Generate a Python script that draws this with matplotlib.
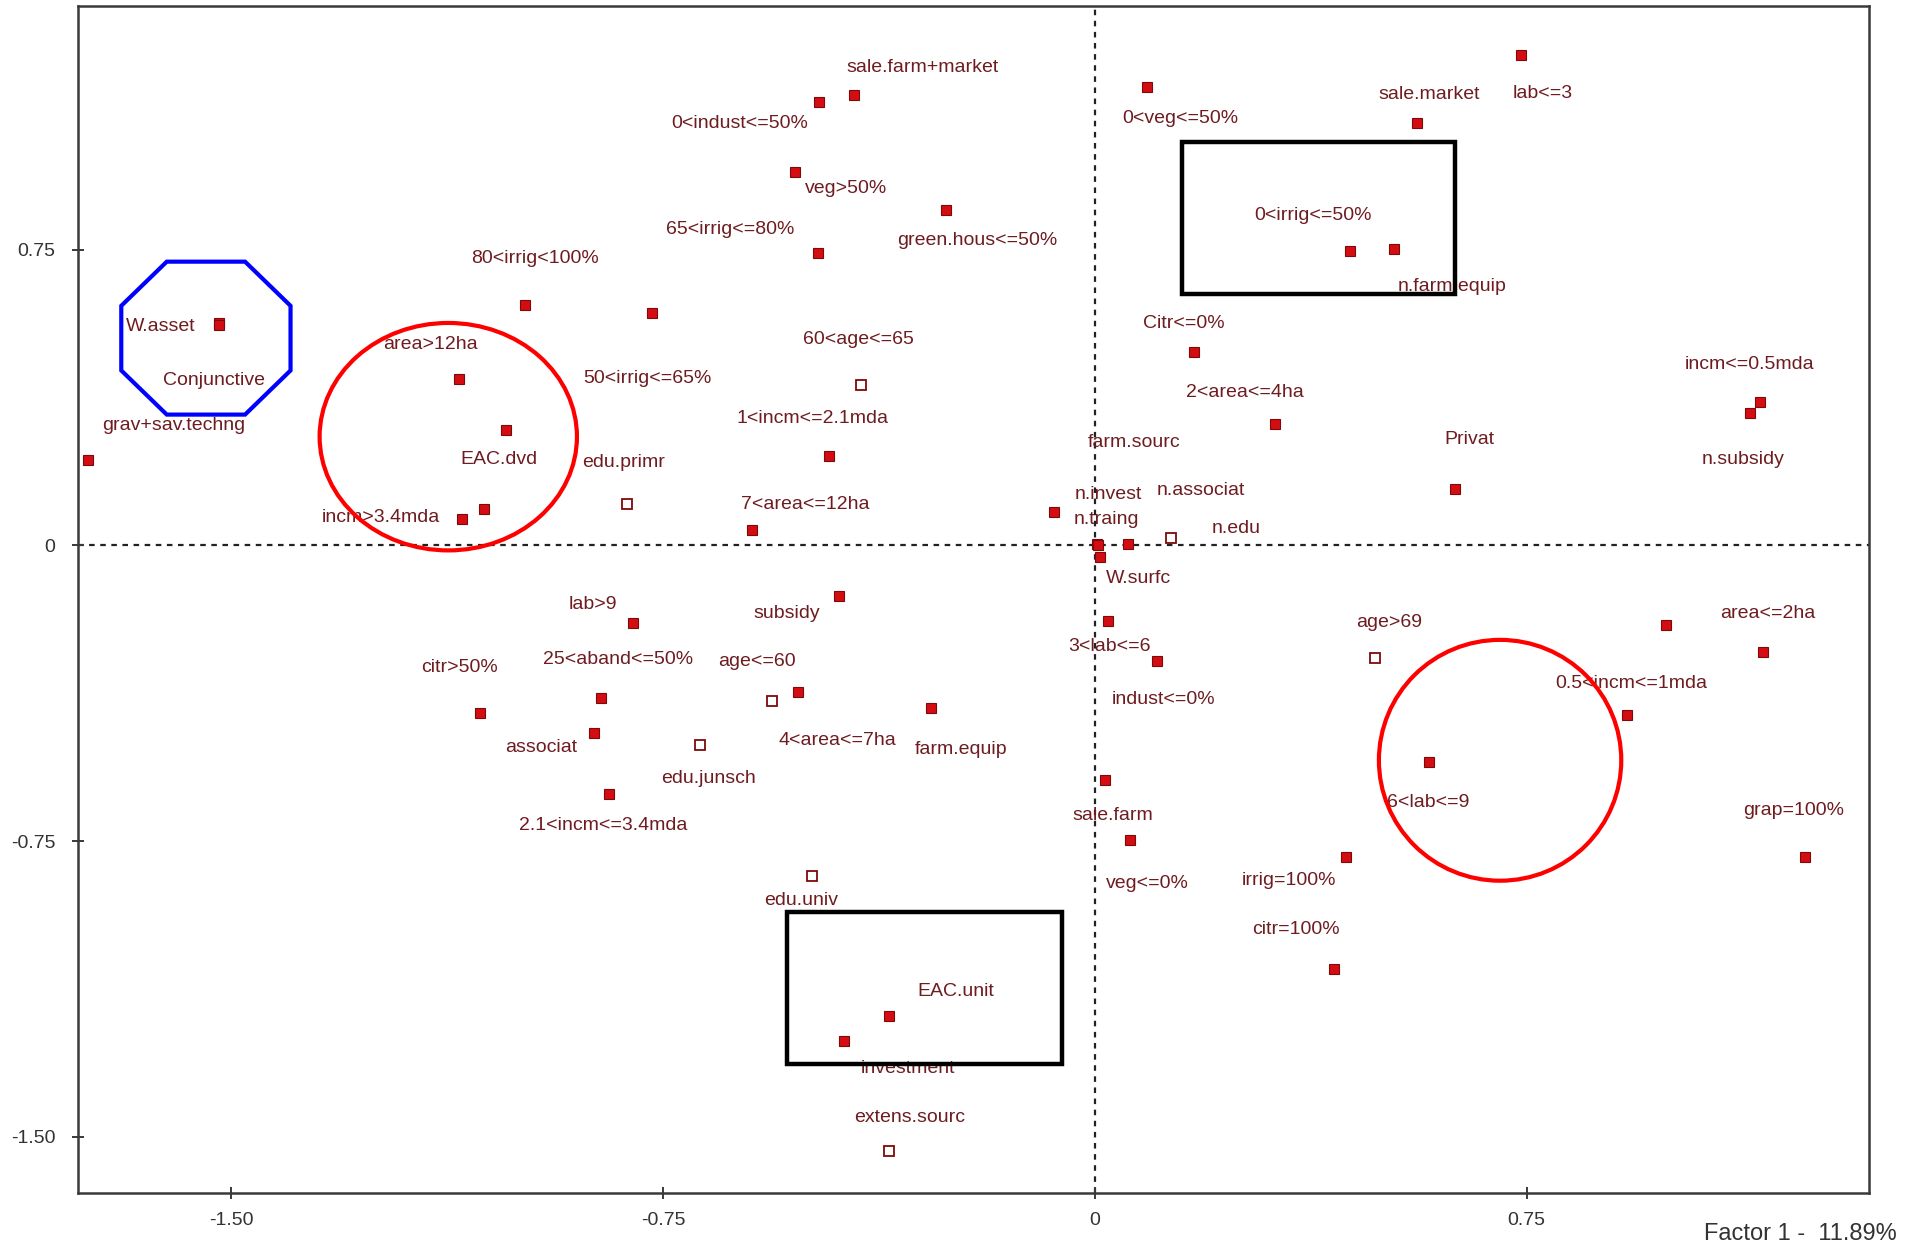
"""Correspondence-analysis factor map (factor 1 x factor 2) with highlighted groups."""

import matplotlib

matplotlib.use("Agg")

import matplotlib.pyplot as plt
from matplotlib.patches import Ellipse, Polygon, Rectangle

# category points (factor 1, factor 2); hollow = supplementary modality
labels = [
    "W.asset", "Conjunctive", "grav+sav.techng", "80<irrig<100%", "area>12ha",
    "EAC.dvd", "", "incm>3.4mda", "50<irrig<=65%", "edu.primr",
    "0<indust<=50%", "sale.farm+market", "veg>50%", "65<irrig<=80%", "green.hous<=50%",
    "60<age<=65", "1<incm<=2.1mda", "7<area<=12ha", "subsidy", "lab>9",
    "citr>50%", "25<aband<=50%", "associat", "2.1<incm<=3.4mda", "edu.junsch",
    "age<=60", "4<area<=7ha", "farm.equip", "edu.univ", "EAC.unit",
    "investment", "extens.sourc", "0<veg<=50%", "sale.market", "lab<=3",
    "0<irrig<=50%", "n.farm.equip", "Citr<=0%", "2<area<=4ha", "Privat",
    "incm<=0.5mda", "n.subsidy", "n.invest", "n.traing", "W.surfc",
    "farm.sourc", "n.associat", "n.edu", "3<lab<=6", "indust<=0%",
    "sale.farm", "veg<=0%", "irrig=100%", "citr=100%", "age>69",
    "6<lab<=9", " ", "area<=2ha", "0.5<incm<=1mda", "grap=100%",
]
factor1 = [
    -1.521, -1.521, -1.748, -0.989, -1.104,
    -1.023, -1.061, -1.100, -0.770, -0.812,
    -0.479, -0.419, -0.521, -0.481, -0.259,
    -0.406, -0.461, -0.595, -0.444, -0.802,
    -1.068, -0.857, -0.870, -0.844, -0.685,
    -0.561, -0.515, -0.285, -0.491, -0.357,
    -0.436, -0.357, 0.091, 0.559, 0.740,
    0.444, 0.519, 0.172, 0.313, 0.625,
    1.155, 1.138, -0.070, 0.004, 0.009,
    0.006, 0.057, 0.132, 0.023, 0.108,
    0.017, 0.062, 0.436, 0.415, 0.487,
    0.581, 0.993, 1.161, 0.925, 1.234,
]
factor2 = [
    0.565, 0.559, 0.217, 0.611, 0.422,
    0.292, 0.093, 0.068, 0.590, 0.106,
    1.124, 1.142, 0.947, 0.742, 0.850,
    0.407, 0.227, 0.040, -0.127, -0.196,
    -0.425, -0.388, -0.475, -0.630, -0.506,
    -0.394, -0.372, -0.413, -0.838, -1.195,
    -1.257, -1.536, 1.164, 1.071, 1.245,
    0.748, 0.751, 0.490, 0.307, 0.143,
    0.363, 0.335, 0.084, 0.003, -0.028,
    0.000, 0.003, 0.019, -0.192, -0.292,
    -0.596, -0.748, -0.791, -1.074, -0.286,
    -0.549, -0.202, -0.270, -0.431, -0.791,
]
hollow = [
    "edu.primr", "60<age<=65", "edu.junsch", "age<=60", "edu.univ",
    "extens.sourc", "n.edu", "age>69",
]

x_ticks = [-1.50, -0.75, 0.0, 0.75]
y_ticks = [0.75, 0.0, -0.75, -1.50]
x_title = "Factor 1 -  11.89%"

# label placement relative to its point, in points
LABEL_OFFSET = {
    "W.asset": (-42, -3), "Conjunctive": (-4, -40), "grav+sav.techng": (61, 25),
    "80<irrig<100%": (7, 33), "area>12ha": (-21, 25), "EAC.dvd": (-5, -21),
    "incm>3.4mda": (-58, 1), "50<irrig<=65%": (-3, -47), "edu.primr": (-3, 30),
    "0<indust<=50%": (-57, -15), "sale.farm+market": (50, 20), "veg>50%": (37, -12),
    "65<irrig<=80%": (-63, 17), "green.hous<=50%": (23, -22), "60<age<=65": (-2, 33),
    "1<incm<=2.1mda": (-12, 27), "7<area<=12ha": (38, 18), "subsidy": (-38, -13),
    "lab>9": (-29, 13), "citr>50%": (-15, 33), "25<aband<=50%": (12, 28),
    "associat": (-38, -11), "2.1<incm<=3.4mda": (-4, -23), "edu.junsch": (6, -24),
    "age<=60": (-11, 28), "4<area<=7ha": (28, -35), "farm.equip": (22, -30),
    "edu.univ": (-8, -18), "EAC.unit": (48, 18), "investment": (46, -20),
    "extens.sourc": (15, 24), "0<veg<=50%": (24, -23), "sale.market": (9, 21),
    "lab<=3": (16, -28), "0<irrig<=50%": (-27, 25), "n.farm.equip": (42, -27),
    "Citr<=0%": (-7, 21), "2<area<=4ha": (-22, 23), "Privat": (11, 36),
    "incm<=0.5mda": (-7, 27), "n.subsidy": (-5, -33), "n.invest": (39, 13),
    "n.traing": (7, 18), "W.surfc": (28, -16), "farm.sourc": (26, 74),
    "n.associat": (53, 39), "n.edu": (47, 7), "3<lab<=6": (1, -18),
    "indust<=0%": (5, -28), "sale.farm": (6, -25), "veg<=0%": (12, -31),
    "irrig=100%": (-41, -17), "citr=100%": (-27, 28), "age>69": (10, 26),
    "6<lab<=9": (-1, -29), "area<=2ha": (3, 28), "0.5<incm<=1mda": (3, 23),
    "grap=100%": (-8, 34),
}

POINT_RED = "#d40d12"
POINT_EDGE = "#7d0a0a"
LABEL = "#6e1c20"
AXIS = "#3a3a3a"
FONT = ["Liberation Sans", "DejaVu Sans"]

plt.rcParams["font.family"] = FONT

fig = plt.figure(figsize=(19.19, 12.48), dpi=100)
ax = fig.add_axes([0.0407, 0.044, 0.9333, 0.951])
ax.set_xlim(-1.766, 1.345)
ax.set_ylim(-1.643, 1.368)

ax.axhline(0, color="#222222", lw=1.6, ls=(0, (2.5, 2.5)), zorder=1)
ax.axvline(0, color="#222222", lw=1.6, ls=(0, (2.5, 2.5)), zorder=1)

for name, fx, fy in zip(labels, factor1, factor2):
    is_hollow = name in hollow
    ax.plot(
        fx, fy, marker="s", ls="none",
        ms=6.5 if is_hollow else 7,
        mfc="white" if is_hollow else POINT_RED,
        mec=POINT_EDGE, mew=1.3 if is_hollow else 0.8, zorder=3,
    )
    if name.strip():
        ax.annotate(
            name, (fx, fy), xytext=LABEL_OFFSET.get(name, (0, 15)),
            textcoords="offset points", ha="center", va="center",
            fontsize=14, color=LABEL, zorder=4,
        )

# highlighted groups
x0, x1, y0, y1 = -1.691, -1.397, 0.332, 0.720
cx, cy = 0.079, 0.112
octagon = [
    (x0 + cx, y1), (x1 - cx, y1), (x1, y1 - cy), (x1, y0 + cy),
    (x1 - cx, y0), (x0 + cx, y0), (x0, y0 + cy), (x0, y1 - cy),
]
ax.add_patch(Polygon(octagon, closed=True, fill=False, ec="#0000ff", lw=3, zorder=5))
ax.add_patch(Ellipse((-1.123, 0.276), 0.447, 0.577, fill=False, ec="#ff0000", lw=3, zorder=5))
ax.add_patch(Ellipse((0.704, -0.545), 0.421, 0.611, fill=False, ec="#ff0000", lw=3, zorder=5))
ax.add_patch(Rectangle((0.151, 0.639), 0.474, 0.385, fill=False, ec="black", lw=3.2, zorder=5))
ax.add_patch(Rectangle((-0.534, -1.316), 0.477, 0.385, fill=False, ec="black", lw=3.2, zorder=5))


def _fmt(v):
    return "0" if v == 0 else f"{v:.2f}"


ax.set_xticks(x_ticks)
ax.set_xticklabels([_fmt(v) for v in x_ticks])
ax.set_yticks(y_ticks)
ax.set_yticklabels([_fmt(v) for v in y_ticks])
ax.tick_params(direction="inout", length=9, width=1.4, color=AXIS,
               labelsize=14, labelcolor="#333333")
ax.tick_params(axis="x", pad=9)
ax.tick_params(axis="y", pad=12)
for spine in ax.spines.values():
    spine.set_color(AXIS)
    spine.set_linewidth(1.8)

fig.text(0.9885, 0.0115, x_title, ha="right", va="center", fontsize=17, color="#333333")

fig.savefig("out.png", dpi=100, facecolor="white")
